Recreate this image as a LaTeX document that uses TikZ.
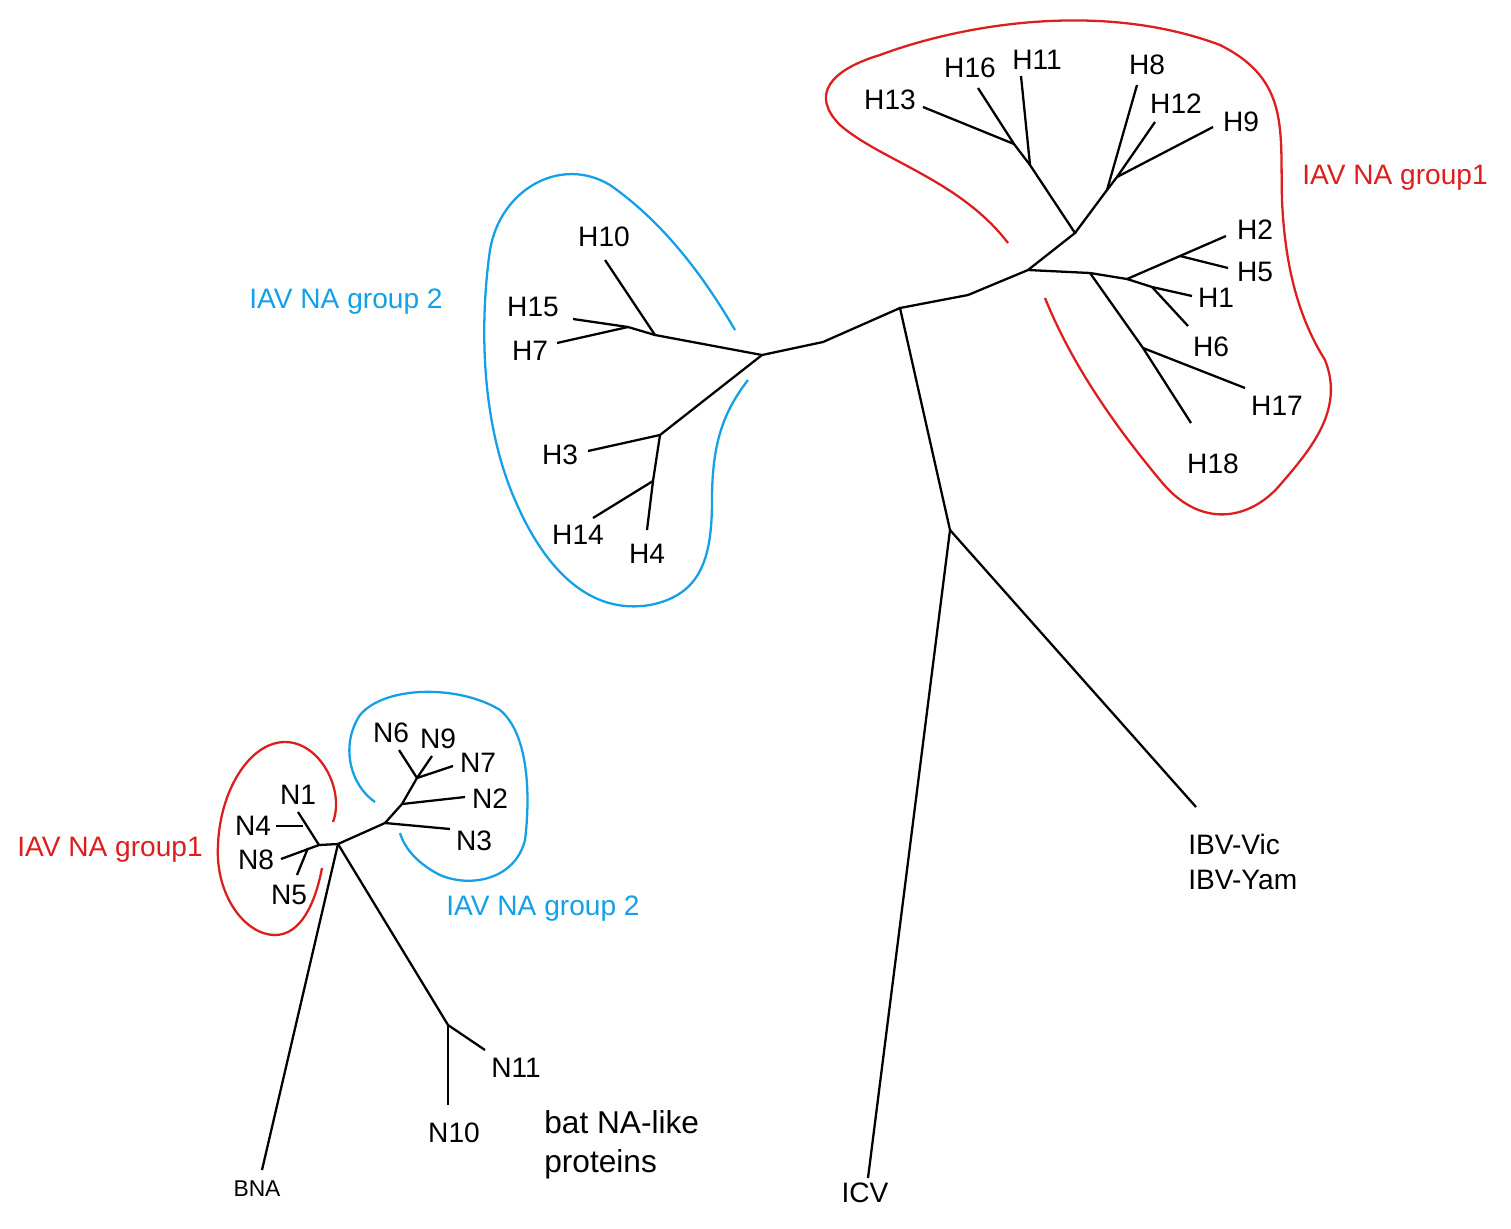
\documentclass[tikz,border=0pt]{standalone}
\usepackage{fontspec}
\setmainfont{Liberation Sans}
\begin{document}
\begin{tikzpicture}[x=0.02cm,y=-0.02cm,
  br/.style={line width=1.3pt,black},
  lb/.style={font=\fontsize{16}{18}\selectfont,inner sep=0pt},
  rd/.style={line width=1.3pt,color={rgb,255:red,220;green,30;blue,30}},
  bl/.style={line width=1.3pt,color={rgb,255:red,20;green,160;blue,230}},
  rt/.style={lb,text={rgb,255:red,220;green,30;blue,30}},
  bt/.style={lb,text={rgb,255:red,20;green,160;blue,230}}]
\useasboundingbox (0,0) rectangle (1511,1228);
% H tree coordinates
\foreach \n/\x/\y in {icv/868/1178,ib/950/530,r/900/308,r1/968/295,c/1028/270,g2a/823/342,g2/762,355,
 A/1075/233,B/1090/273,a1/1030/165,a2/1014/144,h11/1021/76,h16/978/88,h13/923/107,
 b1/1107/190,b2/1117/177,h8/1137/85,h12/1155/122,h9/1213/127,
 c1/1127/279,c2/1180/256,h2/1226/236,h5/1228/268,c3/1152/287,h1/1192/296,h6/1188/326,
 c4/1143/348,h17/1245/388,h18/1191/423,ibv/1196/807,
 d1/655/335,d2/628/327,h10/605/260,h15/573/319,h7/557/343,e1/660/435,e2/653/481,h3/588/451,h14/593/518,h4/647/530}
 {\coordinate (\n) at (\x,\y);}
\coordinate (g2) at (762,355);
\draw[br] (icv)--(ib)--(r)--(r1)--(c)--(A)--(a1)--(h11);
\draw[br] (a1)--(a2)--(h16); \draw[br] (a2)--(h13);
\draw[br] (A)--(b1)--(h8); \draw[br] (b1)--(b2)--(h12); \draw[br] (b2)--(h9);
\draw[br] (c)--(B)--(c1)--(c2)--(h2); \draw[br] (c2)--(h5);
\draw[br] (c1)--(c3)--(h1); \draw[br] (c3)--(h6);
\draw[br] (B)--(c4)--(h17); \draw[br] (c4)--(h18);
\draw[br] (ib)--(ibv);
\draw[br] (r)--(g2a)--(g2)--(d1)--(h10); \draw[br] (d1)--(d2)--(h15); \draw[br] (d2)--(h7);
\draw[br] (g2)--(e1)--(h3); \draw[br] (e1)--(e2)--(h14); \draw[br] (e2)--(h4);
% H labels
\foreach \n/\t/\x/\y in {lh13/H13/890/100,lh16/H16/970/68,lh11/H11/1037/60,lh8/H8/1147/65,lh12/H12/1176/104,lh9/H9/1241/122,
 lh2/H2/1255/230,lh5/H5/1255/272,lh1/H1/1216/298,lh6/H6/1211/347,lh17/H17/1277/406,lh18/H18/1213/464,
 lh10/H10/604/237,lh15/H15/533/307,lh7/H7/530/351,lh3/H3/560/455,lh14/H14/578/535,lh4/H4/647/554,licv/ICV/865/1193}
 {\node[lb] (\n) at (\x,\y) {\t};}
\node[lb,anchor=west,align=left] (libv) at (1188,862) {IBV-Vic\\[2pt]IBV-Yam};
% clusters top
\draw[rd] (1008,243) .. controls (960,180) and (880,160) .. (840,125) .. controls (810,95) and (830,70) .. (880,55)
  .. controls (960,25) and (1100,0) .. (1220,45) .. controls (1290,80) and (1280,130) .. (1282,200)
  .. controls (1285,270) and (1300,320) .. (1325,360) .. controls (1345,410) and (1310,450) .. (1280,485)
  .. controls (1250,520) and (1200,530) .. (1160,480) .. controls (1110,420) and (1070,360) .. (1045,298);
\node[rt] (lg1) at (1395,178) {IAV NA group1};
\draw[bl] (735,330) .. controls (700,270) and (660,220) .. (610,185) .. controls (560,155) and (500,190) .. (490,250)
  .. controls (480,320) and (480,420) .. (515,500) .. controls (545,570) and (590,615) .. (650,605)
  .. controls (700,595) and (712,560) .. (712,500) .. controls (712,440) and (725,410) .. (748,380);
\node[bt] (lg2) at (346,302) {IAV NA group 2};
% N tree
\foreach \n/\x/\y in {nc/338/844,nl/319/845,n1/298/812,n4j/303/826,n4/276/826,n8/281/859,n5j/308/848,n5/297/875,
 m1/385/823,n3/450/829,m2/402/804,n2/465/797,m3/417/778,n7/453/766,n9/432/756,n6/399/750,
 m4/448/1025,n11/485/1050,n10/448/1105,bna/262/1170}
 {\coordinate (\n) at (\x,\y);}
\draw[br] (nc)--(nl)--(n1); \draw[br] (n4j)--(n4); \draw[br] (nl)--(n8); \draw[br] (n5j)--(n5);
\draw[br] (nc)--(m1)--(n3); \draw[br] (m1)--(m2)--(n2); \draw[br] (m2)--(m3)--(n7); \draw[br] (m3)--(n9); \draw[br] (m3)--(n6);
\draw[br] (nc)--(m4)--(n11); \draw[br] (m4)--(n10); \draw[br] (nc)--(bna);
\foreach \n/\t/\x/\y in {ln1/N1/298/795,ln4/N4/253/826,ln8/N8/256/860,ln5/N5/289/895,ln6/N6/391/733,ln9/N9/438/739,
 ln7/N7/478/763,ln2/N2/490/799,ln3/N3/474/841,ln11/N11/516/1068,ln10/N10/454/1133}
 {\node[lb] (\n) at (\x,\y) {\t};}
\node[font=\fontsize{13}{15}\selectfont,inner sep=0pt] (lbna) at (257,1189) {BNA};
\node[lb,anchor=west,align=left,font=\fontsize{18}{21}\selectfont] (lbat) at (544,1145) {bat NA-like\\[1pt]proteins};
\draw[rd] (322,868) .. controls (315,905) and (300,935) .. (275,935) .. controls (245,935) and (215,895) .. (218,845)
  .. controls (220,790) and (250,742) .. (285,742) .. controls (320,742) and (345,790) .. (333,822);
\node[rt] (lg1b) at (110,850) {IAV NA group1};
\draw[bl] (375,802) .. controls (350,785) and (340,745) .. (360,715) .. controls (385,685) and (460,685) .. (500,710)
  .. controls (530,735) and (530,800) .. (525,840) .. controls (515,880) and (470,888) .. (440,875)
  .. controls (420,865) and (405,850) .. (400,833);
\node[bt] (lg2b) at (543,909) {IAV NA group 2};
\end{tikzpicture}
\end{document}
